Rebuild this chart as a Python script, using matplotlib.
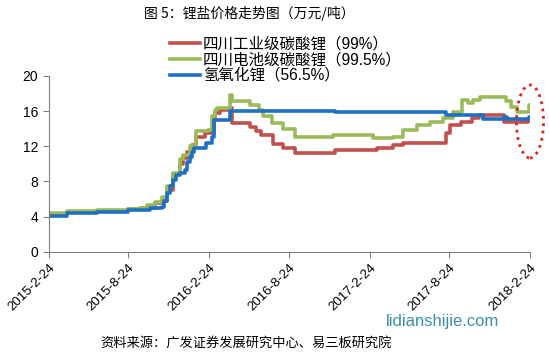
import matplotlib
matplotlib.use("Agg")
import matplotlib.pyplot as plt
import matplotlib.dates as mdates
from matplotlib.patches import Ellipse
import pandas as pd

plt.rcParams['font.family'] = ['Liberation Sans', 'Noto Sans CJK SC', 'DejaVu Sans']

# 四川工业级碳酸锂（99%）
red_dates = ['2015-02-24', '2015-04-07', '2015-06-14', '2015-08-23', '2015-09-20', '2015-10-24',
             '2015-11-08', '2015-11-20', '2015-12-04', '2015-12-20', '2015-12-27', '2016-01-05',
             '2016-01-16', '2016-01-26', '2016-02-14', '2016-03-06', '2016-03-09', '2016-03-20',
             '2016-04-12', '2016-04-16', '2016-05-27', '2016-06-11', '2016-06-22', '2016-07-19',
             '2016-08-11', '2016-09-07', '2016-12-07', '2017-03-13', '2017-04-18', '2017-05-11',
             '2017-08-16', '2017-08-25', '2017-09-19', '2017-10-16', '2017-10-30', '2017-12-26',
             '2018-02-20', '2018-02-24']
red_vals = [4.3, 4.5, 4.65, 4.85, 5.0, 5.5,
            5.8, 7.0, 8.8, 10.0, 10.7, 11.3,
            12.2, 13.0, 13.5, 15.0, 15.8, 16.1,
            16.3, 14.6, 14.2, 13.7, 13.3, 12.3,
            11.8, 11.25, 11.6, 11.8, 12.15, 12.4,
            13.5, 14.4, 14.8, 15.2, 15.6, 14.8,
            15.0, 15.0]

# 四川电池级碳酸锂（99.5%）
green_dates = ['2015-02-24', '2015-04-07', '2015-06-14', '2015-08-23', '2015-09-20', '2015-10-06',
               '2015-10-24', '2015-11-08', '2015-11-20', '2015-12-04', '2015-12-20', '2015-12-27',
               '2016-01-11', '2016-01-26', '2016-02-21', '2016-03-01', '2016-03-09', '2016-03-13',
               '2016-04-12', '2016-04-16', '2016-05-27', '2016-06-18', '2016-06-25', '2016-07-16',
               '2016-08-11', '2016-09-07', '2016-12-03', '2017-03-04', '2017-04-18', '2017-05-11',
               '2017-06-12', '2017-07-12', '2017-08-11', '2017-09-02', '2017-09-23', '2017-10-05',
               '2017-10-18', '2017-11-03', '2017-12-31', '2018-01-11', '2018-01-26', '2018-02-22',
               '2018-02-24']
green_vals = [4.4, 4.6, 4.75, 4.9, 5.0, 5.3,
              5.7, 6.2, 7.5, 9.0, 10.5, 11.0,
              12.0, 13.7, 13.9, 15.4, 16.1, 16.3,
              17.8, 17.1, 16.7, 16.1, 15.4, 14.6,
              14.0, 13.1, 13.3, 12.9, 13.1, 13.9,
              14.4, 14.8, 15.2, 15.95, 17.3, 16.9,
              17.3, 17.65, 17.1, 16.5, 15.9, 16.7,
              16.7]

# 氢氧化锂（56.5%）
blue_dates = ['2015-02-24', '2015-04-07', '2015-06-14', '2015-08-23', '2015-10-13', '2015-11-08',
              '2015-11-14', '2015-11-20', '2015-11-27', '2015-12-04', '2015-12-12', '2015-12-20',
              '2015-12-31', '2016-01-05', '2016-01-11', '2016-01-16', '2016-01-22', '2016-02-18',
              '2016-03-01', '2016-03-06', '2016-04-12', '2016-12-07', '2017-08-16', '2017-11-10',
              '2017-12-26', '2018-01-02', '2018-02-22', '2018-02-24']
blue_vals = [4.1, 4.35, 4.55, 4.8, 4.95, 5.1,
             5.8, 6.7, 7.5, 8.2, 8.7, 9.0,
             9.3, 10.2, 10.8, 11.3, 11.8, 12.4,
             13.1, 15.0, 16.0, 15.9, 15.6, 15.1,
             15.3, 15.1, 15.3, 15.3]

tick_dates = ['2015-2-24', '2015-8-24', '2016-2-24', '2016-8-24', '2017-2-24', '2017-8-24', '2018-2-24']

fig = plt.figure(figsize=(5.49, 3.55), dpi=100)
ax = fig.add_axes([0.0887, 0.291, 0.8767, 0.495])

ax.plot(pd.to_datetime(red_dates), red_vals, drawstyle='steps-post', color='#C0504D', lw=2.6,
        label='四川工业级碳酸锂（99%）')
ax.plot(pd.to_datetime(green_dates), green_vals, drawstyle='steps-post', color='#9BBB59', lw=2.6,
        label='四川电池级碳酸锂（99.5%）')
ax.plot(pd.to_datetime(blue_dates), blue_vals, drawstyle='steps-post', color='#1F70C1', lw=2.6,
        label='氢氧化锂（56.5%）')

ticks = pd.to_datetime(tick_dates)
ax.set_xlim(ticks[0], ticks[-1])
ax.set_xticks(ticks)
ax.set_xticklabels(tick_dates, rotation=45, ha='right', va='top', rotation_mode='anchor', fontsize=9.5)
ax.set_ylim(0, 20)
ax.set_yticks(range(0, 21, 4))
ax.tick_params(axis='y', labelsize=10, length=4, color='#808080', direction='out')
ax.tick_params(axis='x', length=4, color='#808080', direction='out')
for s in ['top', 'right']:
    ax.spines[s].set_visible(False)
for s in ['left', 'bottom']:
    ax.spines[s].set_color('#808080')

leg = ax.legend(loc='upper left', bbox_to_anchor=(0.252, 1.225), frameon=False, fontsize=11.2,
                handlelength=1.9, handletextpad=0.2, labelspacing=0.05, borderaxespad=0, borderpad=0)

fig.text(0.455, 0.963, '图 5：锂盐价格走势图（万元/吨）', ha='center', va='center', fontsize=10,
         family=['Noto Sans CJK SC', 'DejaVu Sans'])
fig.text(0.449, 0.034, '资料来源：广发证券发展研究中心、易三板研究院', ha='center', va='center', fontsize=9.5,
         family=['Noto Sans CJK SC', 'DejaVu Sans'])
fig.text(0.91, 0.093, 'lidianshijie.com', ha='right', va='center', fontsize=12, color='#3A8FA8')

ell = Ellipse((530 / 549, 1 - 121.5 / 355), 27 / 549, 73 / 355, transform=fig.transFigure,
              fill=False, edgecolor='#E02020', linestyle=':', lw=2)
fig.add_artist(ell)

fig.savefig('out.png', dpi=100)
